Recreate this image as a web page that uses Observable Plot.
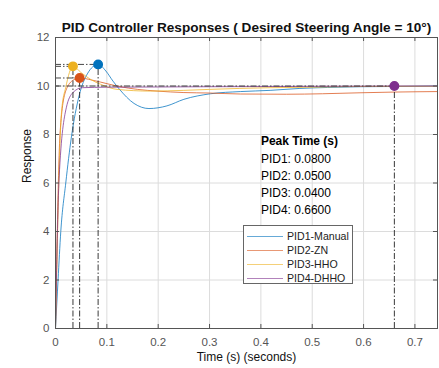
<!DOCTYPE html>
<html>
<head>
<meta charset="utf-8">
<script src="https://cdn.jsdelivr.net/npm/d3@7"></script>
<script src="https://cdn.jsdelivr.net/npm/@observablehq/plot@0.6"></script>
<style>
  body { margin: 0; background: #fff; font-family: "Liberation Sans", Arial, sans-serif; }
  #wrap { position: relative; width: 439px; height: 368px; }
  #legend { position: absolute; left: 243px; top: 225px; width: 110px; height: 59px; border: 1px solid #666; background: #fff; box-sizing: border-box; }
  .row { position: absolute; left: 0; height: 14px; display: flex; align-items: center; font-size: 10.6px; color: #222; white-space: nowrap; }
  .sw { width: 36px; height: 0; margin-left: 3px; margin-right: 4px; border-top: 1.2px solid; }
</style>
</head>
<body>
<div id="wrap"><div id="legend"></div></div>
<script>
// ---- data ----
const seriesNames = ["PID1-Manual", "PID2-ZN", "PID3-HHO", "PID4-DHHO"];
const seriesColors = ["#0072BD", "#D95319", "#EDB120", "#7E2F8E"];

const t1 = [0, 0.005, 0.0103, 0.02, 0.031, 0.046, 0.062, 0.083, 0.098, 0.112, 0.124, 0.153, 0.182, 0.217, 0.25, 0.302, 0.36, 0.418, 0.476, 0.53, 0.593, 0.66, 0.744];
const v1 = [0, 2, 4, 6, 7.9, 9.6, 10.5, 10.89, 10.62, 10.2, 9.88, 9.28, 9.07, 9.18, 9.45, 9.68, 9.77, 9.82, 9.9, 9.94, 9.97, 9.98, 10.0];

const t2 = [0, 0.009, 0.02, 0.035, 0.047, 0.07, 0.088, 0.124, 0.16, 0.198, 0.25, 0.3, 0.36, 0.45, 0.52, 0.593, 0.66, 0.744];
const v2 = [0, 8.1, 9.8, 10.25, 10.33, 10.25, 10.16, 9.98, 9.86, 9.79, 9.73, 9.71, 9.67, 9.66, 9.68, 9.72, 9.75, 9.77];

const t3 = [0, 0.012, 0.02, 0.034, 0.05, 0.07, 0.088, 0.12, 0.185, 0.25, 0.3, 0.418, 0.5, 0.593, 0.744];
const v3 = [0, 9.0, 9.95, 10.81, 10.55, 10.25, 10.07, 9.86, 9.79, 9.82, 9.86, 9.93, 9.95, 9.98, 9.99];

const t4 = [0, 0.007, 0.021, 0.034, 0.052, 0.1, 0.2, 0.3, 0.45, 0.55, 0.66, 0.744];
const v4 = [0, 6.2, 9.1, 9.73, 9.93, 9.95, 9.96, 9.97, 9.98, 9.99, 10.0, 10.0];

// peak markers (positions as drawn) and reported peak times
const peakX = [0.083, 0.047, 0.034, 0.66];
const peakY = [10.89, 10.33, 10.81, 10.0];
const peakTimes = [0.08, 0.05, 0.04, 0.66];

const xTicks = [0, 0.1, 0.2, 0.3, 0.4, 0.5, 0.6, 0.7];
const yTicks = [0, 2, 4, 6, 8, 10, 12];

const titleText = "PID Controller Responses ( Desired Steering Angle = 10°)";
const xLabel = "Time (s) (seconds)";
const yLabel = "Response";
const peakTitle = "Peak Time (s)";

// ---- build tables ----
const ts = [t1, t2, t3, t4], vs = [v1, v2, v3, v4];
const lines = ts.flatMap((t, i) => t.map((x, j) => ({x, y: vs[i][j], s: i})));
const peaks = peakX.map((x, i) => ({x, y: peakY[i], s: i}));
const peakLabel = peakTimes.map((p, i) => `PID${i + 1}: ${p.toFixed(4)}`).join("\n");

const font = "Liberation Sans, Arial, sans-serif";
const dashdot = "6,2,1.5,2";
const xTickLen = 0.0078, yTickLen = 0.165;
const xMax = 0.744;

const plot = Plot.plot({
  width: 439, height: 368,
  marginLeft: 55, marginRight: 2, marginTop: 37, marginBottom: 40,
  style: {fontFamily: font, background: "white"},
  x: {domain: [0, xMax]},
  y: {domain: [0, 12]},
  marks: [
    Plot.gridX(xTicks.filter(d => d > 0), {stroke: "#dcdcdc", strokeOpacity: 1}),
    Plot.gridY(yTicks.filter(d => d > 0 && d < 12), {stroke: "#dcdcdc", strokeOpacity: 1}),
    Plot.axisX(xTicks, {tickSize: 0, tickPadding: 9, fontSize: 11.5, fill: "#555", label: null, tickFormat: d => String(d)}),
    Plot.axisY(yTicks, {tickSize: 0, tickPadding: 6, fontSize: 11.5, fill: "#555", label: null}),
    Plot.line(lines, {x: "x", y: "y", z: "s", curve: "monotone-x", stroke: d => seriesColors[d.s], strokeWidth: 1, strokeOpacity: 0.75}),
    // horizontal dash-dot guides
    Plot.ruleY(peaks, {y: "y", x1: 0, x2: "x", stroke: "#333", strokeWidth: 0.9, strokeDasharray: dashdot}),
    // vertical dash-dot guides
    Plot.ruleX(peaks, {x: "x", y1: 0, y2: "y", stroke: "#222", strokeWidth: 0.9, strokeDasharray: dashdot}),
    Plot.dot(peaks, {x: "x", y: "y", r: 4.2, fill: d => seriesColors[d.s], stroke: d => seriesColors[d.s]}),
    // inward ticks
    Plot.ruleX(xTicks.slice(1), {x: d => d, y1: 0, y2: yTickLen, stroke: "#555"}),
    Plot.ruleX(xTicks.slice(1), {x: d => d, y1: 12 - yTickLen, y2: 12, stroke: "#555"}),
    Plot.ruleY(yTicks.slice(1, -1), {y: d => d, x1: 0, x2: xTickLen, stroke: "#555"}),
    Plot.ruleY(yTicks.slice(1, -1), {y: d => d, x1: xMax - xTickLen, x2: xMax, stroke: "#555"}),
    Plot.frame({stroke: "#555"}),
    // peak time annotation
    Plot.text([peakTitle], {x: 0.4, y: 6.0, dy: -42, text: d => d, textAnchor: "start", fontWeight: "bold", fontSize: 12, fill: "#000"}),
    Plot.text([peakLabel], {x: 0.4, y: 6.0, text: d => d, textAnchor: "start", lineAnchor: "middle", lineHeight: 1.4, fontSize: 12, fill: "#000"}),
    // title and axis labels
    Plot.text([titleText], {frameAnchor: "top", dy: -15, text: d => d, fontWeight: "bold", fontSize: 13.6, fill: "#111"}),
    Plot.text([xLabel], {frameAnchor: "bottom", dy: 32, text: d => d, fontSize: 12, fill: "#111"}),
    Plot.text([yLabel], {frameAnchor: "left", dx: -28, rotate: -90, text: d => d, fontSize: 12, fill: "#111"})
  ]
});
const wrap = document.getElementById("wrap");
wrap.insertBefore(plot, wrap.firstChild);

// legend
const legend = document.getElementById("legend");
seriesNames.forEach((name, i) => {
  const row = document.createElement("div");
  row.className = "row";
  row.style.top = (3 + i * 14) + "px";
  const sw = document.createElement("span");
  sw.className = "sw";
  sw.style.borderTopColor = seriesColors[i];
  sw.style.opacity = 0.6;
  const label = document.createElement("span");
  label.textContent = name;
  row.appendChild(sw); row.appendChild(label);
  legend.appendChild(row);
});
</script>
</body>
</html>
